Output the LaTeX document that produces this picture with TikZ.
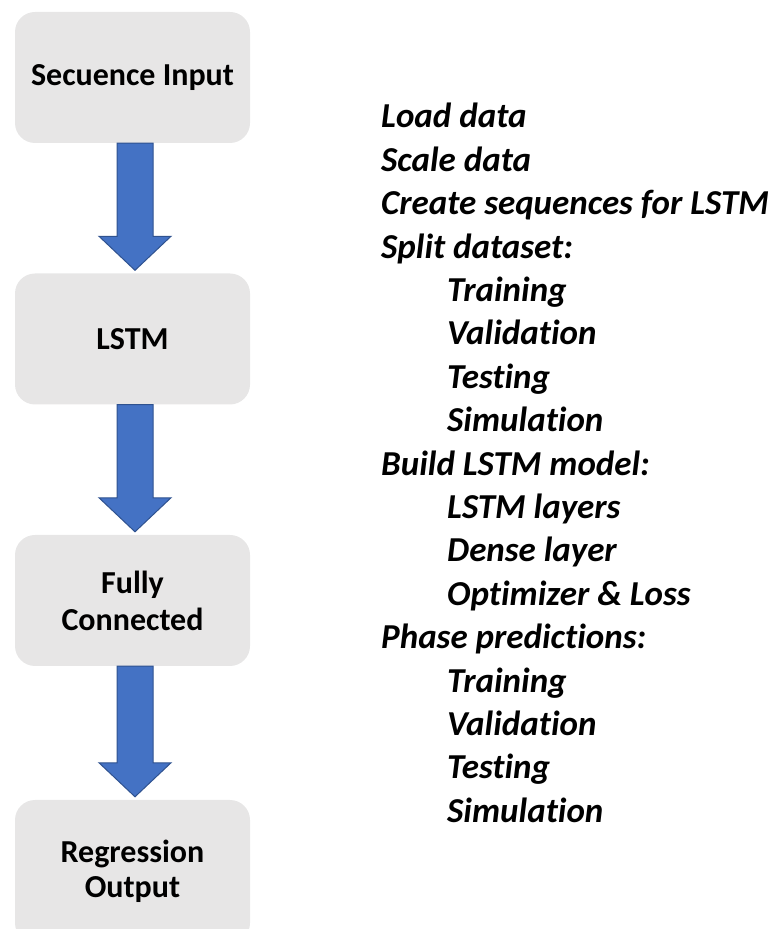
\documentclass[tikz,border=0pt]{standalone}
\usepackage{fontspec}
\setmainfont{Carlito}[Ligatures=NoCommon]
\usetikzlibrary{calc}
\definecolor{boxgray}{HTML}{E7E6E6}
\definecolor{arrowblue}{HTML}{4472C4}
\definecolor{arrowedge}{HTML}{2F528F}
\tikzset{
  stagebox/.style={fill=boxgray, draw=none, rounded corners=20pt, minimum width=235pt, minimum height=131pt, align=center, font=\fontsize{32}{36}\selectfont\bfseries, inner sep=0pt},
  barrow/.style={fill=arrowblue, draw=arrowedge, line width=1pt, line join=miter},
  stepline/.style={anchor=base west, inner sep=0pt, font=\fontsize{35}{42}\selectfont\bfseries\itshape}
}
\begin{document}
\begin{tikzpicture}[x=1pt,y=1pt]
\useasboundingbox (0,0) rectangle (782,929);
\node[stagebox] (b1) at (132.5,851.5) {\raisebox{-3pt}{Secuence Input}};
\node[stagebox] (b2) at (132.5,590) {LSTM};
\node[stagebox] (b3) at (132.5,328.5) {Fully\\[1pt]Connected};
\node[stagebox, minimum height=143pt] (b4) at (132.5,57.5) {Regression\\[-1pt]Output};
\foreach \s/\e in {b1/b2,b2/b3,b3/b4}{
  \coordinate (as) at ($(\s.south)+(2.5,0)$);
  \coordinate (ae) at ($(\e.north)+(2.5,3)$);
  \draw[barrow] ($(as)+(-18,0)$) -- ($(ae)+(-18,34)$) -- ($(ae)+(-36,34)$) -- (ae) -- ($(ae)+(36,34)$) -- ($(ae)+(18,34)$) -- ($(as)+(18,0)$) -- cycle;
}
\foreach \i/\ind/\t in {
  1/0/{Load data},
  2/0/{Scale data},
  3/0/{Create sequences for LSTM},
  4/0/{Split dataset:},
  5/1/{Training},
  6/1/{Validation},
  7/1/{Testing},
  8/1/{Simulation},
  9/0/{Build LSTM model:},
  10/1/{LSTM layers},
  11/1/{Dense layer},
  12/1/{Optimizer \& Loss},
  13/0/{Phase predictions:},
  14/1/{Training},
  15/1/{Validation},
  16/1/{Testing},
  17/1/{Simulation}}{
  \node[stepline] (l\i) at ({381+66*\ind},{801-43.4*(\i-1)}) {\t};
}
\end{tikzpicture}
\end{document}
